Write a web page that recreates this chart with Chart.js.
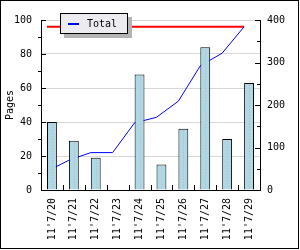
<!DOCTYPE html>
<html>
<head>
<meta charset="utf-8">
<script src="https://cdn.jsdelivr.net/npm/chart.js@4/dist/chart.umd.min.js"></script>
<style>
body{margin:0;background:#fff}
canvas{display:block}
</style>
</head>
<body>
<canvas id="myChart" width="300" height="250"></canvas>
<script>
// pages per day, running total and the overall total line
var days=["11'7/20","11'7/21","11'7/22","11'7/23","11'7/24","11'7/25","11'7/26","11'7/27","11'7/28","11'7/29"];
var pages=[40,29,19,0,68,15,36,84,30,63];
var total=[44,70,88,88,158,171,209,292,322,384];
var overall=[384,384,384,384,384,384,384,384,384,384];
var leftTicks=[0,10,20,30,40,50,60,70,80,90,100];
var rightTicks=[0,50,100,150,200,250,300,350,400];

Chart.defaults.font.family="DejaVu Sans Mono";
Chart.defaults.font.size=10;
Chart.defaults.color="#000";

// lines are drawn a few pixels left of the bar centres, like the original
var shiftLines={
  id:"shiftLines",
  beforeDatasetDraw:function(chart,args){
    if(args.index>0){chart.ctx.save();chart.ctx.translate(-5,0);}
  },
  afterDatasetDraw:function(chart,args){
    if(args.index>0){chart.ctx.restore();}
  }
};

// inward tick marks, frame, bar centre dots and the boxed legend
var extras={
  id:"extras",
  afterDatasetsDraw:function(chart){
    var c=chart.ctx;
    var bars=chart.getDatasetMeta(0).data;
    c.save();
    c.strokeStyle="#e0a8a8";
    c.lineWidth=1;
    c.setLineDash([1,2]);
    c.beginPath();
    for(var i=0;i<bars.length;i++){
      if(pages[i]<=0) continue;
      var bx=Math.round(bars[i].x)+0.5;
      c.moveTo(bx,bars[i].y+2);c.lineTo(bx,bars[i].base-1);
    }
    c.stroke();
    c.restore();
  },
  afterDraw:function(chart){
    var c=chart.ctx, a=chart.chartArea;
    var y=chart.scales.y, y1=chart.scales.y1, x=chart.scales.x;
    c.save();
    c.strokeStyle="#000";
    c.lineWidth=1;
    c.beginPath();
    for(var i=0;i<leftTicks.length;i++){
      var py=Math.round(y.getPixelForValue(leftTicks[i]))+0.5;
      if(leftTicks[i]%20==0){c.moveTo(a.left,py);c.lineTo(a.left+5,py);}
      else{c.moveTo(a.left-3,py);c.lineTo(a.left,py);}
    }
    for(var j=0;j<rightTicks.length;j++){
      var py2=Math.round(y1.getPixelForValue(rightTicks[j]))+0.5;
      var len=rightTicks[j]%100==0?5:3;
      c.moveTo(a.right-len,py2);c.lineTo(a.right,py2);
    }
    for(var k=1;k<days.length;k++){
      var px=Math.round((x.getPixelForValue(k-1)+x.getPixelForValue(k))/2)+0.5;
      c.moveTo(px,a.bottom-5);c.lineTo(px,a.bottom);
    }
    c.stroke();
    // outer frame
    c.strokeRect(0.5,0.5,298,248);
    // legend box with shadow
    c.fillStyle="#b4b4b4";
    c.fillRect(64,17,68,21);
    c.fillStyle="#ecebf0";
    c.fillRect(60,13,68,21);
    c.strokeRect(60.5,13.5,67,20);
    c.strokeStyle="#0000ff";
    c.lineWidth=2;
    c.beginPath();c.moveTo(68,24);c.lineTo(79,24);c.stroke();
    c.fillStyle="#000";
    c.font="10px 'DejaVu Sans Mono'";
    c.textBaseline="middle";
    c.fillText(chart.data.datasets[1].label,87,24);
    c.restore();
  }
};

new Chart("myChart",{
  type:"bar",
  data:{
    labels:days,
    datasets:[{
      label:"Pages",
      data:pages,
      backgroundColor:"#add8e6",
      borderColor:"#000",
      borderWidth:1,
      barPercentage:0.45,
      categoryPercentage:1,
      yAxisID:"y",
      order:0
    },{
      type:"line",
      label:"Total",
      data:total,
      borderColor:"#0000ff",
      borderWidth:1,
      pointRadius:0,
      yAxisID:"y1",
      order:1
    },{
      type:"line",
      label:"All",
      data:overall,
      borderColor:"#ff0000",
      borderWidth:2,
      pointRadius:0,
      yAxisID:"y1",
      order:2
    }]
  },
  options:{
    responsive:false,
    animation:false,
    layout:{padding:{top:20,left:0,right:0,bottom:0}},
    plugins:{legend:{display:false},tooltip:{enabled:false}},
    scales:{
      x:{
        grid:{display:false,drawTicks:false},
        border:{color:"#000"},
        ticks:{minRotation:90,maxRotation:90,autoSkip:false,padding:8},
        afterFit:function(s){s.height=60;}
      },
      y:{
        position:"left",
        min:0,max:100,
        ticks:{stepSize:20,padding:9},
        grid:{drawTicks:false,color:function(ctx){return ctx.tick&&ctx.tick.value==0?"rgba(0,0,0,0)":"#d8d8d8";}},
        border:{color:"#000"},
        title:{display:true,text:"Pages"},
        afterFit:function(s){s.width=41;}
      },
      y1:{
        position:"right",
        min:0,max:400,
        ticks:{stepSize:100,padding:7},
        grid:{drawOnChartArea:false,drawTicks:false},
        border:{color:"#000"},
        afterFit:function(s){s.width=40;}
      }
    }
  },
  plugins:[shiftLines,extras]
});
</script>
</body>
</html>
